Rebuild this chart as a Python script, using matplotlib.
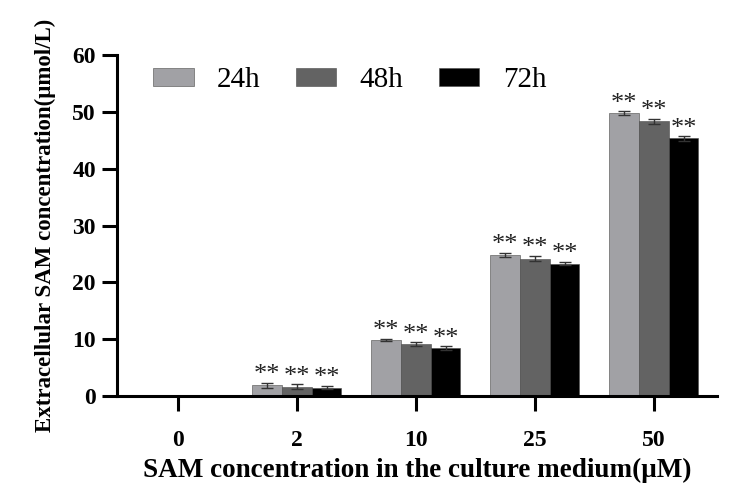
import matplotlib.pyplot as plt
import numpy as np

plt.rcParams['font.family'] = ['Liberation Serif', 'DejaVu Serif']

doses = ['0', '2', '10', '25', '50']
series = ['24h', '48h', '72h']
means_24h = [0.0, 1.9, 9.9, 24.8, 49.8]
means_48h = [0.0, 1.7, 9.2, 24.2, 48.3]
means_72h = [0.0, 1.5, 8.5, 23.3, 45.3]
err_24h = [0.0, 0.5, 0.2, 0.4, 0.3]
err_48h = [0.0, 0.4, 0.3, 0.5, 0.5]
err_72h = [0.0, 0.3, 0.3, 0.3, 0.4]
marks = ['', '**', '**', '**', '**']

colors = ['#a1a1a5', '#636363', '#000000']
means = [means_24h, means_48h, means_72h]
errs = [err_24h, err_48h, err_72h]

fig = plt.figure(figsize=(7.3, 4.94), dpi=100)
ax = fig.add_axes([0.160, 0.198, 0.822, 0.691])

x = np.arange(len(doses))
w = 0.25
for i, (name, m, e, c) in enumerate(zip(series, means, errs, colors)):
    pos = x + (i - 1) * w
    ax.bar(pos, m, w, color=c, edgecolor='#4a4a4a', linewidth=0.4, label=name)
    ax.errorbar(pos, m, yerr=e, fmt='none', ecolor='#333333',
                elinewidth=1, capsize=4, capthick=1)
    for px, v, err, s in zip(pos, m, e, marks):
        if s:
            ax.text(px, v + err - 0.6, s, ha='center', va='bottom',
                    fontsize=19, color='#222222')

ax.set_xlim(-0.513, 4.53)
ax.set_ylim(0, 60)
ax.set_xticks(x)
ax.set_xticklabels(doses)
ax.set_yticks(np.arange(0, 61, 10))
for side in ['top', 'right']:
    ax.spines[side].set_visible(False)
for side in ['left', 'bottom']:
    ax.spines[side].set_linewidth(2.2)
ax.tick_params(width=2.2, length=11)
ax.tick_params(axis='x', labelsize=17, pad=13)
ax.tick_params(axis='y', labelsize=17, pad=4)
for lab in ax.get_xticklabels() + ax.get_yticklabels():
    lab.set_fontweight('bold')

ax.set_ylabel('Extracellular SAM concentration(μmol/L)', fontsize=16.5,
              fontweight='bold', labelpad=12)
ax.set_xlabel('SAM concentration in the culture medium(μM)', fontsize=19.5,
              fontweight='bold', labelpad=5)

ax.legend(loc='center left', ncol=3, frameon=False, fontsize=21,
          bbox_to_anchor=(0.06, 0.926), borderaxespad=0, borderpad=0,
          handlelength=1.4, handleheight=0.6,
          columnspacing=1.2, handletextpad=0.8)

fig.savefig('out.png', dpi=100)
